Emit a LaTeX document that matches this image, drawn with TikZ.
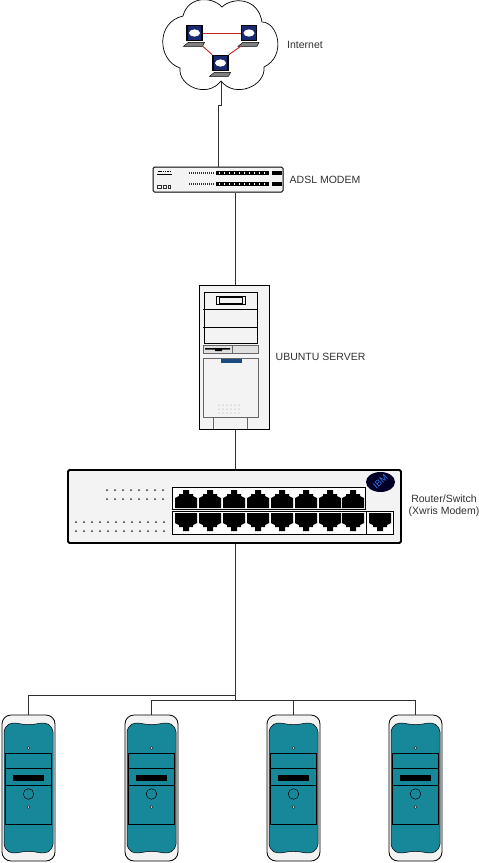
\documentclass[tikz,border=0pt]{standalone}
\usepackage{fontspec}
\setmainfont{Liberation Sans}
\usetikzlibrary{positioning}
\definecolor{towerteal}{HTML}{17879A}
\definecolor{panel}{HTML}{F3F3F3}
\definecolor{ink}{HTML}{303030}
\definecolor{linkred}{HTML}{C42020}
\definecolor{screenblue}{HTML}{1A2A70}
\definecolor{ibmblue}{HTML}{3A7AF0}
\definecolor{barblue}{HTML}{1B4A80}
\tikzset{
  wire/.style={draw=ink,line width=0.9pt},
  redlink/.style={draw=linkred,line width=0.9pt},
  lbl/.style={font=\fontsize{10.5}{12.5}\selectfont,text=ink,align=center,inner sep=0pt},
  devicebox/.style={rectangle,rounded corners=1.5pt,draw=black,fill=panel,inner sep=0pt},
  laptopbox/.style={rectangle,draw=black,line width=1.6pt,fill=screenblue,inner sep=0pt,minimum width=15pt,minimum height=15pt},
  towerbox/.style={rectangle,rounded corners=9pt,draw=black,line width=0.8pt,fill=panel,inner sep=0pt,minimum width=53pt,minimum height=146pt},
  portpanel/.style={draw=black,line width=0.8pt,fill=white}
}
% one RJ45 socket, #3 = 1 opens upwards, -1 downwards
\newcommand{\PortPic}[3]{%
  \fill[black,shift={(#1,#2)},yscale=#3] (-11,9) -- (-11,-1) -- (-7,-3) -- (-7,-5) -- (-3,-5) -- (-3,-9) -- (3,-9) -- (3,-5) -- (7,-5) -- (7,-3) -- (11,-1) -- (11,9) -- cycle;
}
\newcommand{\LaptopPic}[2]{%
  \node[laptopbox] (#1) at (#2) {};
  \fill[white] (#1.center) ellipse[x radius=5.5,y radius=3.6];
  \fill[black!50,draw=black,line width=0.4pt,shift={(#1.south)}] (-6,1) -- (10,1) -- (8,5) -- (-11,5) -- cycle;
}
\newcommand{\TowerPic}[2]{%
  \node[towerbox] (#1) at (#2,788) {};
  \begin{scope}[shift={(#1.center)}]
    \fill[towerteal,draw=black,line width=0.5pt] (-24.5,-56) .. controls (-23,-64) and (-18,-66) .. (-10,-64.5)
      .. controls (-3,-63) and (3,-63) .. (10,-64.5) .. controls (18,-66) and (23,-64) .. (24.5,-56)
      -- (24.5,56) .. controls (23,64) and (18,66) .. (10,64.5) .. controls (3,63) and (-3,63) .. (-10,64.5)
      .. controls (-18,66) and (-23,64) .. (-24.5,56) -- cycle;
    \draw[black,line width=0.6pt] (-23,-35) rectangle (23,36);
    \draw[black,line width=0.6pt] (-23,-20) -- (23,-20) (-23,-3) -- (23,-3);
    \fill[black] (-15.5,-13) rectangle (15.5,-7);
    \draw[black,line width=0.5pt] (0,6) circle[radius=5.3];
    \foreach \y in {-40,19} {
      \fill[white,draw=black,line width=0.4pt] (0,\y) circle[radius=1.3];
    }
  \end{scope}
}
\begin{document}
\begin{tikzpicture}[x=1pt,y=-1pt]
  \useasboundingbox (0,0) rectangle (479,863);

  % cloud
  \draw[black,line width=0.7pt,fill=white] (222,7) .. controls (232,-3) and (258,-3) .. (262,22)
    .. controls (278,22) and (287,56) .. (264,67)
    .. controls (266,86) and (235,99) .. (221,81)
    .. controls (207,99) and (178,86) .. (180,68)
    .. controls (157,60) and (156,22) .. (183,16)
    .. controls (188,-4) and (212,-4) .. (222,7);
  \coordinate (lapone) at (194.5,33);
  \coordinate (laptwo) at (249,33);
  \coordinate (lapthree) at (220.5,63);
  \LaptopPic{laptopA}{lapone}
  \LaptopPic{laptopB}{laptwo}
  \LaptopPic{laptopC}{lapthree}
  \draw[redlink] (laptopA.east) -- (laptopB.west);
  \draw[redlink] (laptopA.south east) ++(0,5) -- (laptopC.north west);
  \draw[redlink] (laptopB.south west) ++(0,5) -- (laptopC.north east);
  \node[lbl] (internet) at (305,45) {Internet};

  % modem
  \node[devicebox,line width=1pt,minimum width=130pt,minimum height=25pt] (modem) at (218,179.5) {};
  \foreach \y in {173,184} {
    \foreach \x in {189,191,...,213} {
      \fill[ink] (\x,\y-0.8) rectangle +(1,2);
    }
    \fill[black] (216,\y-2) rectangle (269,\y+2);
    \fill[black] (272,\y-2) rectangle (282,\y+2);
    \foreach \x in {219,224,...,267} {
      \fill[white] (\x,\y-0.6) rectangle +(1.2,1.2);
    }
  }
  \draw[black,line width=1pt] (157,174.5) -- (172,174.5);
  \draw[black,line width=1.6pt,dash pattern=on 1.5pt off 0.8pt] (158,171.5) -- (171,171.5);
  \draw[ink,line width=0.7pt] (157,185.5) rectangle (161,188) (163,185.5) rectangle (166,188) (168,185.5) rectangle (170,188);
  \node[lbl,right=6pt of modem] (modemlabel) {ADSL MODEM};

  % server
  \node[devicebox,line width=1pt,rounded corners=0pt,minimum width=70pt,minimum height=144pt] (server) at (234,357) {};
  \draw[black,line width=0.8pt] (204,292) rectangle (257,343);
  \draw[black,line width=0.8pt] (203,309) -- (257,309) (203,327) -- (257,327);
  \draw[black,line width=0.8pt] (216,296) rectangle (245,304);
  \draw[black,line width=0.6pt,fill=panel] (219,297) rectangle (242,303);
  \draw[black!60,line width=0.7pt,fill=black!12] (203,345) rectangle (258,353);
  \draw[black!60,line width=0.7pt] (232,345) -- (232,353);
  \fill[black] (205,348) rectangle (230,349.5) (215,349.5) rectangle (222,351);
  \draw[black!60,line width=0.8pt,fill=panel] (203,358) rectangle (258,417);
  \fill[barblue] (221,359) rectangle (242,363);
  \foreach \x in {219,223,...,239} {
    \foreach \y in {405,409,413} {
      \fill[black!45] (\x,\y) circle[radius=0.5];
    }
  }
  \draw[black!60,line width=0.7pt] (213,417) -- (213,429) (247,417) -- (247,429);
  \node[lbl,right=6pt of server] (serverlabel) {UBUNTU SERVER};

  % switch
  \node[devicebox,line width=1.8pt,minimum width=333pt,minimum height=73pt] (switch) at (234.5,506.5) {};
  \draw[portpanel] (172,487) rectangle (365,509);
  \draw[portpanel] (172,511) rectangle (393,534);
  \draw[black,line width=0.8pt] (366,511) -- (366,534);
  \foreach \x in {186,210,234,258,282,306,330,353} {
    \PortPic{\x}{499}{1}
    \PortPic{\x}{522}{-1}
  }
  \PortPic{380}{522}{-1}
  \foreach \x in {107,115,...,164} {
    \foreach \y in {490,499} {
      \fill[ink] (\x,\y) circle[radius=1];
    }
  }
  \foreach \x in {76,84,...,164} {
    \foreach \y in {522,531} {
      \fill[ink] (\x,\y) circle[radius=1];
    }
  }
  \fill[black!85!blue] (380.5,482) ellipse[x radius=14.5,y radius=10];
  \node[font=\fontsize{9}{9}\selectfont,text=ibmblue,rotate=42,inner sep=0pt] (ibm) at (380.5,482) {IBM};
  \node[lbl] (switchlabel) at (444,506) {Router/Switch\\(Xwris Modem)};

  % workstations
  \TowerPic{towerA}{28.5}
  \TowerPic{towerB}{151.5}
  \TowerPic{towerC}{293.5}
  \TowerPic{towerD}{415.5}

  % links
  \coordinate (cloudtail) at (221,82);
  \coordinate (cloudjog) at (218,105);
  \coordinate (busjoint) at (235,700);
  \coordinate (busupper) at (235,695);
  \draw[wire] (cloudtail) |- (cloudjog) -- (cloudjog |- modem.north);
  \draw[wire] (modem.south -| busjoint) -- (busjoint |- server.north);
  \draw[wire] (busjoint |- server.south) -- (busjoint |- switch.north);
  \draw[wire] (busjoint |- switch.south) -- (busjoint);
  \draw[wire] (towerA.north) |- (busupper);
  \draw[wire] (towerB.north) |- (busjoint);
  \draw[wire] (towerC.north) |- (busjoint);
  \draw[wire] (towerD.north) |- (busjoint);
\end{tikzpicture}
\end{document}
